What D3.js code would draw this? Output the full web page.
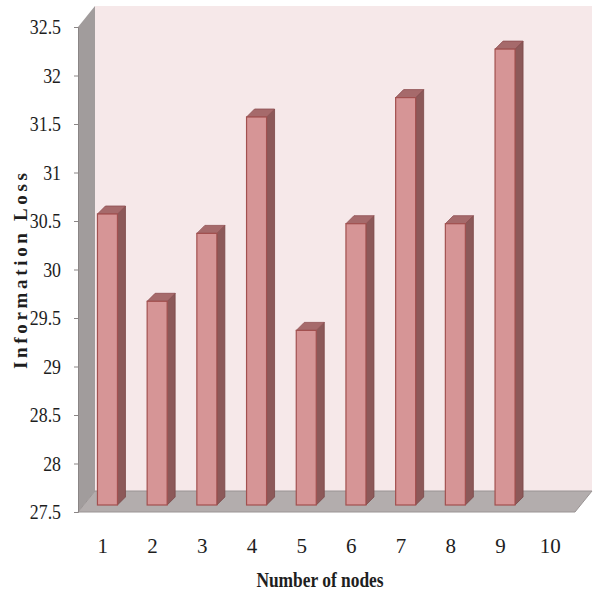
<!DOCTYPE html>
<html>
<head>
<meta charset="utf-8">
<script src="https://cdn.jsdelivr.net/npm/d3@7/dist/d3.min.js"></script>
<style>
  html, body { margin: 0; padding: 0; background: #ffffff; }
  svg { display: block; }
  text { font-family: "Liberation Serif", "Times New Roman", serif; fill: #1e1e1e; }
</style>
</head>
<body>
<svg id="chart" width="598" height="598"></svg>
<script>
// Information loss per node count (node 10 has no value)
const categories = ["1", "2", "3", "4", "5", "6", "7", "8", "9", "10"];
const lossValues = [30.5, 29.6, 30.3, 31.5, 29.3, 30.4, 31.7, 30.4, 32.2, null];
const yTickValues = [27.5, 28, 28.5, 29, 29.5, 30, 30.5, 31, 31.5, 32, 32.5];

const svg = d3.select("#chart");

// Front plane of the plot box
const boxLeft = 78, boxRight = 575, boxTop = 27, boxBottom = 512;
// Oblique depth of the box (walls / floor)
const depthX = 17, depthY = -21;
// Plane the bars stand on and their own depth
const barPlaneX = 4.6, barPlaneY = -7;
const barDepthX = 8, barDepthY = -8;
const barWidth = 20;

const x = d3.scaleBand().domain(categories).range([boxLeft, boxRight]);
const y = d3.scaleLinear().domain([27.5, 32.5]).range([boxBottom, boxTop]);

const poly = pts => pts.map(p => p.join(",")).join(" ");

// Back wall
svg.append("polygon")
  .attr("points", poly([[boxLeft + depthX, boxTop + depthY], [boxRight + depthX, boxTop + depthY],
                        [boxRight + depthX, boxBottom + depthY], [boxLeft + depthX, boxBottom + depthY]]))
  .attr("fill", "#f6e8e9");

// Left side wall
svg.append("polygon")
  .attr("points", poly([[boxLeft, boxTop], [boxLeft + depthX, boxTop + depthY],
                        [boxLeft + depthX, boxBottom + depthY], [boxLeft, boxBottom]]))
  .attr("fill", "#a19c9c");

// Floor
svg.append("polygon")
  .attr("points", poly([[boxLeft, boxBottom], [boxLeft + depthX, boxBottom + depthY],
                        [boxRight + depthX, boxBottom + depthY], [boxRight, boxBottom]]))
  .attr("fill", "#b3adad")
  .attr("stroke", "#9a9494")
  .attr("stroke-width", 1);

// 3D bars
const bars = svg.append("g").attr("class", "bars")
  .selectAll("g")
  .data(categories.map((c, i) => ({ c, v: lossValues[i] })).filter(d => d.v != null))
  .join("g");

const fx = d => x(d.c) + x.bandwidth() / 2 - barWidth / 2 + barPlaneX;
const y0 = y(27.5) + barPlaneY;
const yt = d => y(d.v) + barPlaneY;

// side face
bars.append("polygon")
  .attr("points", d => poly([[fx(d) + barWidth, yt(d)], [fx(d) + barWidth + barDepthX, yt(d) + barDepthY],
                             [fx(d) + barWidth + barDepthX, y0 + barDepthY], [fx(d) + barWidth, y0]]))
  .attr("fill", "#8c5959")
  .attr("stroke", "#7a4646").attr("stroke-width", 0.8);

// top face
bars.append("polygon")
  .attr("points", d => poly([[fx(d), yt(d)], [fx(d) + barDepthX, yt(d) + barDepthY],
                             [fx(d) + barWidth + barDepthX, yt(d) + barDepthY], [fx(d) + barWidth, yt(d)]]))
  .attr("fill", "#a66a6b")
  .attr("stroke", "#8e4e50").attr("stroke-width", 0.8);

// front face
bars.append("rect")
  .attr("x", fx)
  .attr("y", yt)
  .attr("width", barWidth)
  .attr("height", d => y0 - yt(d))
  .attr("fill", "#d69596")
  .attr("stroke", "#a2504f").attr("stroke-width", 1.2);

// Y axis along the front edge of the side wall
const yAxis = d3.axisLeft(y).tickValues(yTickValues).tickSize(4).tickPadding(13)
  .tickFormat(d => String(d));
const gy = svg.append("g").attr("transform", `translate(${boxLeft},0)`).call(yAxis);
gy.select(".domain").attr("stroke", "#8a8585");
gy.selectAll(".tick line").attr("stroke", "#8a8585");
gy.selectAll(".tick text")
  .style("font-family", "Liberation Serif, serif")
  .attr("font-size", 21)
  .attr("fill", "#1e1e1e")
  .attr("transform", function () {
    const xx = +d3.select(this).attr("x");
    return `translate(${xx},0) scale(0.85,1) translate(${-xx},0)`;
  });

// X category labels
svg.append("g").selectAll("text")
  .data(categories)
  .join("text")
  .attr("x", d => x(d) + x.bandwidth() / 2)
  .attr("y", 553)
  .attr("text-anchor", "middle")
  .attr("font-size", 21)
  .text(d => d);

// Axis titles
svg.append("text")
  .attr("transform", "translate(320,587) scale(0.87,1)")
  .attr("text-anchor", "middle")
  .attr("font-size", 20)
  .attr("font-weight", "bold")
  .text("Number of nodes");

svg.append("text")
  .attr("transform", "translate(27,271) rotate(-90)")
  .attr("text-anchor", "middle")
  .attr("font-size", 19)
  .attr("font-weight", "bold")
  .attr("textLength", 196)
  .attr("lengthAdjust", "spacing")
  .text("Information Loss");
</script>
</body>
</html>
